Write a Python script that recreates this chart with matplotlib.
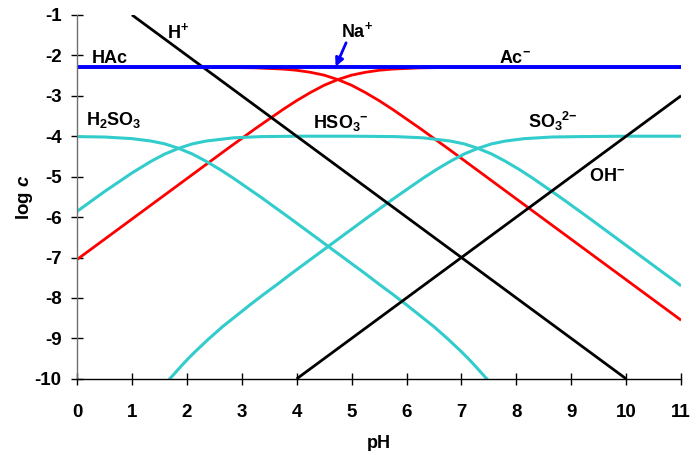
import numpy as np
import matplotlib
matplotlib.use("Agg")
import matplotlib.pyplot as plt
from matplotlib.ticker import MultipleLocator

plt.rcParams['font.family'] = ['Liberation Sans', 'DejaVu Sans']
plt.rcParams['font.weight'] = 'bold'
plt.rcParams['mathtext.fontset'] = 'custom'
plt.rcParams['mathtext.rm'] = 'Liberation Sans:bold'
plt.rcParams['mathtext.bf'] = 'Liberation Sans:bold'
plt.rcParams['mathtext.it'] = 'Liberation Sans:bold:italic'
plt.rcParams['mathtext.bfit'] = 'Liberation Sans:bold:italic'

# values (pH, log c)
ph_h = [1, 10]
log_h = [-1, -10]
ph_oh = [4, 11]
log_oh = [-10, -3]
ph_na = [0, 11]
log_na = [-2.3, -2.3]

ph_hac = [0, 1, 2, 2.75, 3.25, 3.75, 4.0, 4.25, 4.5, 4.75, 5.0, 5.25, 5.5, 5.75,
          6.25, 6.75, 7.25, 7.75, 8.75, 9.75, 11]
log_hac = [-2.30, -2.30, -2.30, -2.30, -2.31, -2.34, -2.37, -2.42, -2.49, -2.60, -2.74,
           -2.92, -3.12, -3.34, -3.81, -4.30, -4.80, -5.30, -6.30, -7.30, -8.55]

ph_ac = [0, 1, 2, 2.75, 3.25, 3.75, 4.0, 4.25, 4.5, 4.75, 5.0, 5.25, 5.5, 5.75,
         6.25, 6.75, 8, 11]
log_ac = [-7.05, -6.05, -5.05, -4.30, -3.81, -3.34, -3.12, -2.92, -2.74, -2.60, -2.49,
          -2.42, -2.37, -2.34, -2.31, -2.30, -2.30, -2.30]

ph_h2so3 = [0, 0.5, 1.0, 1.35, 1.6, 1.85, 2.1, 2.35, 2.6, 2.85, 3.35, 3.85, 4.85,
            5.25, 5.5, 5.75, 6.0, 6.25, 6.5, 6.75, 7.0, 7.125, 7.25, 7.375, 7.5]
log_h2so3 = [-4.01, -4.02, -4.06, -4.12, -4.19, -4.30, -4.44, -4.62, -4.82, -5.04,
             -5.51, -6.00, -7.00, -7.40, -7.66, -7.91, -8.17, -8.44, -8.71, -9.01,
             -9.33, -9.50, -9.68, -9.87, -10.06]

ph_hso3 = [0, 0.5, 1.0, 1.35, 1.6, 1.85, 2.1, 2.35, 2.85, 3.35, 4, 5, 5.8, 6.3, 6.8,
           7.05, 7.3, 7.55, 7.8, 8.05, 8.3, 8.8, 9.3, 10.3, 11]
log_hso3 = [-5.86, -5.37, -4.91, -4.62, -4.44, -4.30, -4.19, -4.12, -4.04, -4.01, -4.00,
            -4.00, -4.01, -4.04, -4.12, -4.19, -4.30, -4.44, -4.62, -4.82, -5.04, -5.51,
            -6.00, -7.00, -7.70]

ph_so3 = [1.65, 1.775, 1.9, 2.025, 2.15, 2.4, 2.65, 2.9, 3.15, 3.4, 3.65, 3.9, 4.3,
          5.3, 5.8, 6.3, 6.55, 6.8, 7.05, 7.3, 7.55, 7.8, 8.15, 8.65, 9.15, 10, 11]
log_so3 = [-10.06, -9.87, -9.68, -9.50, -9.33, -9.01, -8.71, -8.44, -8.17, -7.91,
           -7.66, -7.40, -7.00, -6.00, -5.51, -5.04, -4.82, -4.62, -4.44, -4.30, -4.19,
           -4.12, -4.06, -4.02, -4.01, -4.00, -4.00]

red = '#ff0000'
cyan = '#33cccc'
blue = '#0000ff'

fig = plt.figure(figsize=(7, 4.51), dpi=100)
ax = fig.add_axes([0.11, 0.16, 0.863, 0.807])

ax.plot(ph_hac, log_hac, color=red, lw=2.0, solid_capstyle='butt')
ax.plot(ph_ac, log_ac, color=red, lw=2.0, solid_capstyle='butt')
ax.plot(ph_h2so3, log_h2so3, color=cyan, lw=2.2, solid_capstyle='butt')
ax.plot(ph_hso3, log_hso3, color=cyan, lw=2.2, solid_capstyle='butt')
ax.plot(ph_so3, log_so3, color=cyan, lw=2.2, solid_capstyle='butt')
ax.plot(ph_h, log_h, color='black', lw=2.0, solid_capstyle='butt')
ax.plot(ph_oh, log_oh, color='black', lw=2.0, solid_capstyle='butt')
ax.plot(ph_na, log_na, color=blue, lw=2.8, solid_capstyle='butt')

ax.set_xlim(0, 11)
ax.set_ylim(-10, -1)
ax.xaxis.set_major_locator(MultipleLocator(1))
ax.set_yticks(range(-10, 0))
ax.set_yticklabels([str(v) for v in range(-10, 0)])

for s in ['top', 'right']:
    ax.spines[s].set_visible(False)
ax.spines['left'].set_color('#707070')
ax.spines['bottom'].set_color('black')
ax.spines['left'].set_linewidth(1.0)
ax.spines['bottom'].set_linewidth(1.0)
ax.tick_params(axis='x', direction='inout', length=9, width=1.0, pad=13.5, labelsize=13.5)
ax.tick_params(axis='y', direction='inout', length=8, width=1.0, pad=7, labelsize=13.5)
for lab in ax.get_xticklabels() + ax.get_yticklabels():
    lab.set_fontweight('bold')

ax.set_xlabel('pH', fontsize=13, fontweight='bold', labelpad=10)
ax.set_ylabel(r'log $\mathit{c}$', fontsize=13.5, fontweight='bold', labelpad=0)

fs = 13
ax.text(1.64, -1.57, r'H$^{+}$', fontsize=fs, fontweight='bold', va='baseline')
ax.text(0.27, -2.18, 'HAc', fontsize=fs, fontweight='bold', va='baseline')
ax.text(0.16, -3.72, r'H$_{2}$SO$_{3}$', fontsize=fs, fontweight='bold', va='baseline')
ax.text(4.81, -1.55, r'Na$^{+}$', fontsize=fs, fontweight='bold', va='baseline')
ax.text(7.68, -2.19, r'Ac$^{-}$', fontsize=fs, fontweight='bold', va='baseline')
ax.text(4.30, -3.80, r'HSO$_{3}$$^{-}$', fontsize=fs, fontweight='bold', va='baseline')
ax.text(8.22, -3.80, r'SO$_{3}$$^{2{-}}$', fontsize=fs, fontweight='bold', va='baseline')
ax.text(9.33, -5.12, r'OH$^{-}$', fontsize=fs, fontweight='bold', va='baseline')

ax.annotate('', xy=(4.71, -2.28), xytext=(4.9, -1.69),
            arrowprops=dict(arrowstyle='-|>', color=blue, lw=2.0,
                            mutation_scale=12, shrinkA=0, shrinkB=0))

fig.savefig('out.png', dpi=100)
